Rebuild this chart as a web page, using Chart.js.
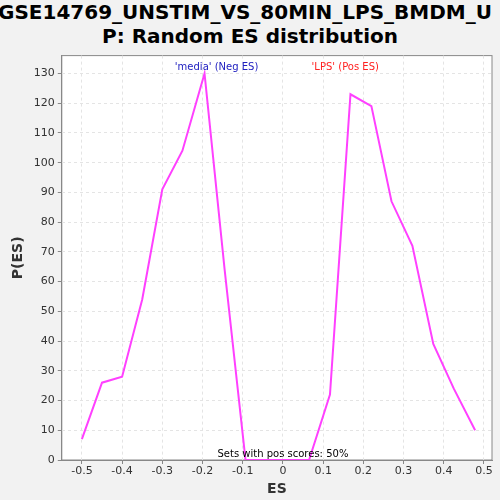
<!DOCTYPE html>
<html>
<head>
<script src="https://cdn.jsdelivr.net/npm/chart.js@4"></script>
<style>
body { margin: 0; background: #f2f2f2; }
#wrap { width: 500px; height: 500px; position: relative; }
h1 { position: absolute; top: 0; left: 0; width: 500px; margin: 0; font: bold 20px "DejaVu Sans", sans-serif; text-align: center; line-height: 24px; white-space: nowrap; color: #000; }
#box { position: absolute; top: 46px; left: 0; width: 500px; height: 454px; }
</style>
</head>
<body>
<div id="wrap">
<h1><span style="display:inline-block;margin-left:-10px">GSE14769_UNSTIM_VS_80MIN_LPS_BMDM_U</span><br>P: Random ES distribution</h1>
<div id="box"><canvas id="chart"></canvas></div>
</div>
<script>
/* valores */
const esValues = [-0.5, -0.45, -0.4, -0.35, -0.3, -0.25, -0.195, -0.145, -0.093, 0.065, 0.117, 0.168, 0.22, 0.27, 0.322, 0.374, 0.425, 0.478]
const pValues = [7, 26, 28, 54, 91, 104, 130, 64, 0, 0, 22, 123, 119, 87, 72, 39, 24, 10]
const xTicks = [-0.5, -0.4, -0.3, -0.2, -0.1, 0, 0.1, 0.2, 0.3, 0.4, 0.5]
const yTicks = [0, 10, 20, 30, 40, 50, 60, 70, 80, 90, 100, 110, 120, 130]

const points = esValues.map((x, i) => ({ x, y: pValues[i] }))

const notes = {
  id: 'notes',
  afterDraw(chart) {
    const { ctx, scales: { x, y } } = chart
    ctx.save()
    ctx.font = '10px "DejaVu Sans", sans-serif'
    ctx.textAlign = 'center'
    ctx.fillStyle = '#2020c0'
    ctx.fillText("'media' (Neg ES)", x.getPixelForValue(-0.165), y.getPixelForValue(131))
    ctx.fillStyle = '#ff2020'
    ctx.fillText("'LPS' (Pos ES)", x.getPixelForValue(0.155), y.getPixelForValue(131))
    ctx.fillStyle = '#000'
    ctx.fillText('Sets with pos scores: 50%', x.getPixelForValue(0), y.getPixelForValue(0) - 3)
    ctx.restore()
  }
}

new Chart(document.querySelector('#chart'), {
  type: 'line',
  data: { datasets: [{ data: points, borderColor: '#ff40ff', borderWidth: 2, pointRadius: 0, tension: 0 }] },
  options: {
    responsive: true, maintainAspectRatio: false, animation: false,
    layout: { padding: { top: 8, right: 8, left: 6 } },
    plugins: { legend: { display: false }, tooltip: { enabled: false } },
    scales: {
      x: {
        type: 'linear', min: -0.55, max: 0.52,
        afterBuildTicks: s => { s.ticks = xTicks.map(v => ({ value: v })) },
        ticks: { color: '#333', font: { size: 11, family: 'DejaVu Sans' }, maxRotation: 0, padding: 1, callback: v => String(Math.round(v * 10) / 10) },
        grid: { color: '#e4e4e4', tickColor: '#888', tickLength: 4 },
        border: { color: '#888', dash: [3, 3] },
        title: { display: true, text: 'ES', padding: { top: 2, bottom: 2 }, font: { size: 14, weight: 'bold', family: 'DejaVu Sans' }, color: '#333' }
      },
      y: {
        min: 0, max: 136,
        afterBuildTicks: s => { s.ticks = yTicks.map(v => ({ value: v })) },
        ticks: { color: '#333', font: { size: 11, family: 'DejaVu Sans' } },
        grid: { color: '#e4e4e4', tickColor: '#888', tickLength: 4 },
        border: { color: '#888', dash: [3, 3] },
        title: { display: true, text: 'P(ES)', font: { size: 14, weight: 'bold', family: 'DejaVu Sans' }, color: '#333' }
      }
    }
  },
  plugins: [{
    id: 'bg',
    beforeDraw(chart) {
      const { ctx, chartArea: a } = chart
      ctx.save(); ctx.fillStyle = '#fff'; ctx.fillRect(a.left, a.top, a.width, a.height)
      ctx.strokeStyle = '#888'; ctx.strokeRect(a.left, a.top, a.width, a.height); ctx.restore()
    }
  }, notes]
})
</script>
</body>
</html>
